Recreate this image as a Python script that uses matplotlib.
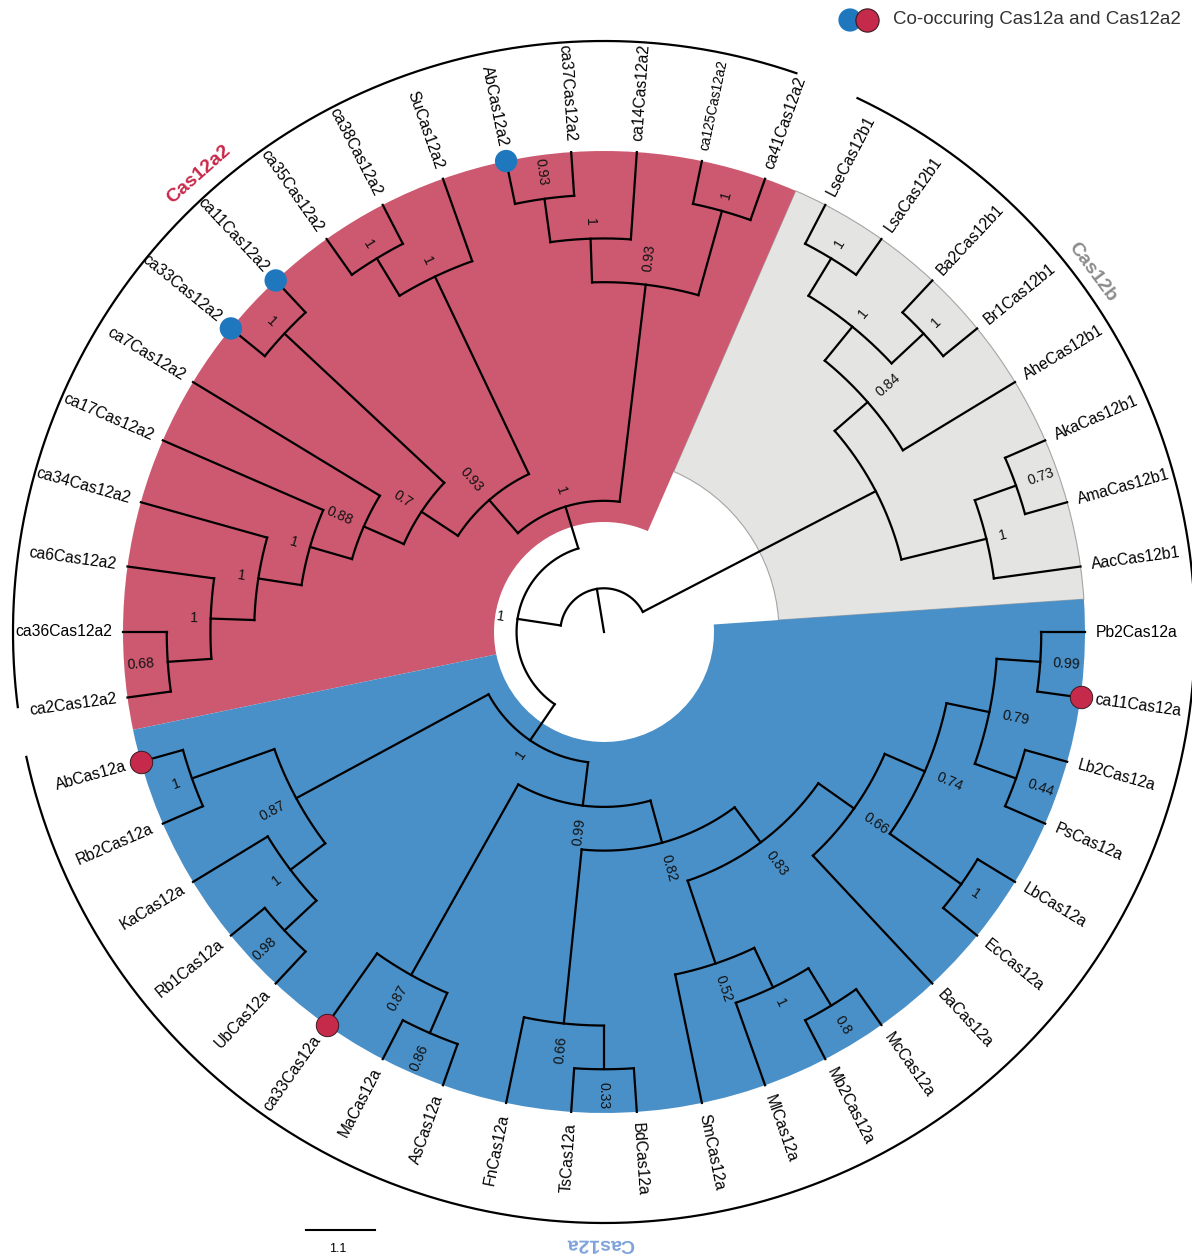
import numpy as np
import matplotlib
matplotlib.use("Agg")
import matplotlib.pyplot as plt
from matplotlib.patches import Wedge

plt.rcParams['font.family'] = ['Liberation Sans', 'DejaVu Sans']

# ---------------- data ----------------
# topology (Newick) with node support values; leaves listed counter-clockwise
CAS12B_CLADE = ("((AacCas12b1,(AmaCas12b1,AkaCas12b1)0.73)1,"
                "(AheCas12b1,((Br1Cas12b1,Ba2Cas12b1)1,(LsaCas12b1,LseCas12b1)1)1)0.84)")
CAS12A2_CLADE = ("(((ca41Cas12a2,ca125Cas12a2)1,(ca14Cas12a2,(ca37Cas12a2,AbCas12a2)0.93)1)0.93,"
                 "((SuCas12a2,(ca38Cas12a2,ca35Cas12a2)1)1,((ca11Cas12a2,ca33Cas12a2)1,"
                 "(ca7Cas12a2,(ca17Cas12a2,(ca34Cas12a2,(ca6Cas12a2,(ca36Cas12a2,ca2Cas12a2)0.68)1)1)1)0.88)0.7)0.93)1")
CAS12A_CLADE = ("(((AbCas12a,Rb2Cas12a)1,(KaCas12a,(Rb1Cas12a,UbCas12a)0.98)1)0.87,"
                "((ca33Cas12a,(MaCas12a,AsCas12a)0.86)0.87,((FnCas12a,(TsCas12a,BdCas12a)0.33)0.66,"
                "((SmCas12a,(MlCas12a,(Mb2Cas12a,McCas12a)0.8)1)0.52,(BaCas12a,((EcCas12a,LbCas12a)1,"
                "((PsCas12a,Lb2Cas12a)0.44,(ca11Cas12a,Pb2Cas12a)0.99)0.79)0.74)0.66)0.83)0.82)0.99)1")
INNER_SUPPORT = "1"
TREE_NEWICK = "(" + CAS12B_CLADE + ",(" + CAS12A2_CLADE + "," + CAS12A_CLADE + ")" + INNER_SUPPORT + ");"

CLADE_NAMES = ["Cas12b", "Cas12a2", "Cas12a"]
CO_OCCURRING_CAS12A2 = ["AbCas12a2", "ca11Cas12a2", "ca33Cas12a2"]
CO_OCCURRING_CAS12A = ["AbCas12a", "ca11Cas12a", "ca33Cas12a"]
SMALL_LABELS = ["ca125Cas12a2"]
SCALE_BAR_TEXT = "1.1"
LEGEND_TEXT = "Co-occuring Cas12a and Cas12a2"


# ---------------- parsing ----------------
def parse(s):
    pos = 0

    def read_label():
        nonlocal pos
        st = pos
        while pos < len(s) and s[pos] not in ",();":
            pos += 1
        return s[st:pos]

    def node():
        nonlocal pos
        if s[pos] == "(":
            pos += 1
            kids = [node()]
            while s[pos] == ",":
                pos += 1
                kids.append(node())
            pos += 1
            return {"children": kids, "support": read_label()}
        return {"children": [], "name": read_label()}

    return node()


def leaf_names(n):
    if not n["children"]:
        return [n["name"]]
    out = []
    for c in n["children"]:
        out += leaf_names(c)
    return out


tree = parse(TREE_NEWICK)
ALL_LEAVES = leaf_names(tree)
N = len(ALL_LEAVES)
STEP = 360.0 / N
counter = [0]


def layout(n):
    if not n["children"]:
        counter[0] += 1
        n["h"] = 0
        n["ang"] = counter[0] * STEP
    else:
        for c in n["children"]:
            layout(c)
        n["h"] = max(c["h"] for c in n["children"]) + 1
        n["ang"] = 0.5 * (n["children"][0]["ang"] + n["children"][-1]["ang"])


layout(tree)
R_TIP = 481.0
H = tree["h"] + 1


def rad(h):
    return R_TIP * (1 - h / H)


def pol(r, a):
    t = np.radians(a)
    return r * np.cos(t), r * np.sin(t)


def side(a):
    a = a % 360
    if 90 < a < 270:
        return a - 180, "right"
    return a, "left"


# ---------------- figure ----------------
fig = plt.figure(figsize=(11.92, 12.56), dpi=100)
ax = fig.add_axes([0, 0, 1, 1])
ax.set_xlim(-604, 588)
ax.set_ylim(-624, 632)
ax.set_aspect("equal")
ax.axis("off")

# clade background wedges
clade_leaves = {"Cas12b": leaf_names(parse(CAS12B_CLADE)),
                "Cas12a2": leaf_names(parse(CAS12A2_CLADE)),
                "Cas12a": leaf_names(parse(CAS12A_CLADE))}
idx = {name: i + 1 for i, name in enumerate(ALL_LEAVES)}
wedge_style = {"Cas12b": dict(fc="#E4E4E3", ec="#A5A5A5", lw=0.8, rin=175),
               "Cas12a2": dict(fc="#CD5970", ec="none", lw=0, rin=110),
               "Cas12a": dict(fc="#4A90C8", ec="none", lw=0, rin=110)}
for cname in CLADE_NAMES:
    ids = [idx[l] for l in clade_leaves[cname]]
    a0 = (min(ids) - 0.5) * STEP
    a1 = (max(ids) + 0.5) * STEP
    st = wedge_style[cname]
    ax.add_patch(Wedge((0, 0), R_TIP, a0, a1, width=R_TIP - st["rin"],
                       facecolor=st["fc"], edgecolor=st["ec"], linewidth=st["lw"], zorder=1))

LW = 1.6
line_kw = dict(color="black", lw=LW, solid_capstyle="projecting", zorder=3)


def draw(n):
    if not n["children"]:
        return
    r = rad(n["h"])
    a0, a1 = n["children"][0]["ang"], n["children"][-1]["ang"]
    t = np.linspace(a0, a1, 200)
    x, y = pol(r, t)
    ax.plot(x, y, **line_kw)
    for c in n["children"]:
        rc = rad(c["h"])
        xa, ya = pol(r, c["ang"])
        xb, yb = pol(rc, c["ang"])
        ax.plot([xa, xb], [ya, yb], **line_kw)
        draw(c)
    if n.get("support"):
        rot, ha = side(n["ang"])
        tx, ty = pol(r + 13, n["ang"])
        ax.text(tx, ty, n["support"], rotation=rot, ha=ha, va="center",
                rotation_mode="anchor", fontsize=10.2, color="#111111", zorder=5)


draw(tree)
# root stub
xr, yr = pol(rad(tree["h"]), tree["ang"])
ax.plot([0, xr], [0, yr], **line_kw)


def all_leaf_nodes(n):
    if not n["children"]:
        return [n]
    out = []
    for c in n["children"]:
        out += all_leaf_nodes(c)
    return out


marked = set(CO_OCCURRING_CAS12A2) | set(CO_OCCURRING_CAS12A)
for lf in all_leaf_nodes(tree):
    rot, ha = side(lf["ang"])
    tx, ty = pol(496 if lf["name"] in marked else 492, lf["ang"])
    fs = 9.8 if lf["name"] in SMALL_LABELS else 11.3
    ax.text(tx, ty, lf["name"], rotation=rot, ha=ha, va="center",
            rotation_mode="anchor", fontsize=fs, color="black", zorder=5)
    if lf["name"] in CO_OCCURRING_CAS12A2:
        px, py = pol(R_TIP, lf["ang"])
        ax.scatter([px], [py], s=260, color="#1F77BD", edgecolors="none", zorder=6)
    if lf["name"] in CO_OCCURRING_CAS12A:
        px, py = pol(R_TIP, lf["ang"])
        ax.scatter([px], [py], s=260, color="#C52A4B", edgecolors="#3A1A22",
                   linewidths=0.7, zorder=6)

# outer clade arcs and labels
R_ARC = 591
arc_span = {"Cas12a2": (71.0, 187.3), "Cas12b": (-4.0, 64.6), "Cas12a": (192.2, 356.0)}
lab_pos = {"Cas12a2": (131.5, 611), "Cas12b": (36.4, 607), "Cas12a": (269.6, 611)}
lab_col = {"Cas12a2": "#C8294B", "Cas12b": "#8C8C8C", "Cas12a": "#7FA2DB"}
for cname in CLADE_NAMES:
    a0, a1 = arc_span[cname]
    t = np.linspace(a0, a1, 400)
    x, y = pol(R_ARC, t)
    ax.plot(x, y, color="black", lw=1.6, zorder=3)
    ang, rr = lab_pos[cname]
    tx, ty = pol(rr, ang)
    ax.text(tx, ty, cname, rotation=ang - 90, ha="center", va="center",
            rotation_mode="anchor", fontsize=14, fontweight="bold",
            color=lab_col[cname], zorder=5)

# scale bar
ax.plot([-298, -229], [-598, -598], color="black", lw=1.5)
ax.text(-266, -617, SCALE_BAR_TEXT, ha="center", va="center", fontsize=9)

# legend
ax.scatter([246], [612], s=280, color="#1F77BD", edgecolors="none", zorder=6)
ax.scatter([263], [612], s=280, color="#C52A4B", edgecolors="#3A1A22", linewidths=0.8, zorder=7)
ax.text(289, 612, LEGEND_TEXT, ha="left", va="center", fontsize=13.5, color="#333333")

fig.savefig("out.png", dpi=100)
